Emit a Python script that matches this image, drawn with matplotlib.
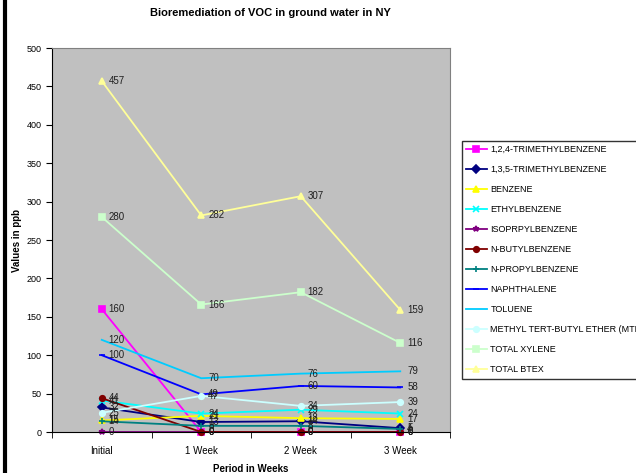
import numpy as np
import matplotlib.pyplot as plt
from matplotlib.lines import Line2D

plt.rcParams['font.family'] = ['Liberation Sans', 'DejaVu Sans']

periods = ['Initial', '1 Week', '2 Week', '3 Week']

names = ['1,2,4-TRIMETHYLBENZENE', '1,3,5-TRIMETHYLBENZENE', 'BENZENE',
         'ETHYLBENZENE', 'ISOPRPYLBENZENE', 'N-BUTYLBENZENE', 'N-PROPYLBENZENE',
         'NAPHTHALENE', 'TOLUENE', 'METHYL TERT-BUTYL ETHER (MTBE)',
         'TOTAL XYLENE', 'TOTAL BTEX']

tmb124 = [160, 0, 0, 0]
tmb135 = [32, 13, 14, 5]
benzene = [15, 21, 18, 17]
ethylbenzene = [41, 24, 29, 24]
isopropyl = [0, 0, 0, 0]
butyl = [44, 0, 0, 0]
propyl = [14, 8, 8, 4]
naphthalene = [100, 49, 60, 58]
toluene = [120, 70, 76, 79]
mtbe = [25, 47, 34, 39]
xylene = [280, 166, 182, 116]
btex = [457, 282, 307, 159]

series = [tmb124, tmb135, benzene, ethylbenzene, isopropyl, butyl, propyl,
          naphthalene, toluene, mtbe, xylene, btex]
colors = ['#FF00FF', '#000080', '#FFFF00', '#00FFFF', '#800080', '#800000',
          '#008080', '#0000FF', '#00CCFF', '#CCFFFF', '#CCFFCC', '#FFFF99']
markers = ['s', 'D', '^', 'x', '*', 'o', '+', '_', None, 'o', 's', '^']

fig = plt.figure(figsize=(6.36, 4.73), dpi=100)
ax = fig.add_axes([52/636, 1-432/473, 398/636, 384/473])
ax.set_facecolor('#C0C0C0')

x = np.arange(len(periods))
for vals, c, m, n in zip(series, colors, markers, names):
    ax.plot(x, vals, color=c, marker=m, markersize=4, lw=1.3, label=n,
            markeredgewidth=1.2, clip_on=False)
    for xi, v in zip(x, vals):
        ax.annotate(str(v), (xi, v), xytext=(5, 0), textcoords='offset points',
                    va='center', ha='left', fontsize=7, color='#202020')

ax.set_xlim(-0.5, 3.5)
ax.set_ylim(0, 500)
ax.set_yticks(np.arange(0, 501, 50))
ax.set_xticks(x)
ax.set_xticklabels(periods)
ax.set_xticks(np.arange(-0.5, 3.6, 1), minor=True)
ax.tick_params(axis='x', which='major', length=0, labelsize=7, pad=10)
ax.tick_params(axis='x', which='minor', length=4, direction='out')
ax.tick_params(axis='y', labelsize=6.5, length=4, direction='out')
for s in ['top', 'right']:
    ax.spines[s].set_color('#808080')
ax.spines['left'].set_color('black')
ax.spines['bottom'].set_color('black')

ax.set_xlabel('Period in Weeks', fontsize=7, fontweight='bold', labelpad=6)
ax.set_ylabel('Values in ppb', fontsize=7, fontweight='bold')
ax.yaxis.set_label_coords(-0.075, 0.5)
fig.text(270/636, 1-13/473, 'Bioremediation of VOC in ground water in NY',
         ha='center', va='center', fontsize=8, fontweight='bold')

leg = fig.legend(loc='upper left', bbox_to_anchor=(457/636, 1-136/473),
                 fontsize=6.5, frameon=True, fancybox=False, edgecolor='black',
                 handlelength=2.3, labelspacing=1.22, borderpad=0.5,
                 handletextpad=0.4)
leg.get_frame().set_linewidth(1.0)

# thick border line on the left
fig.add_artist(Line2D([5/636, 5/636], [0, 1], color='black', lw=3,
                      transform=fig.transFigure))

fig.savefig('out.png', dpi=100)
